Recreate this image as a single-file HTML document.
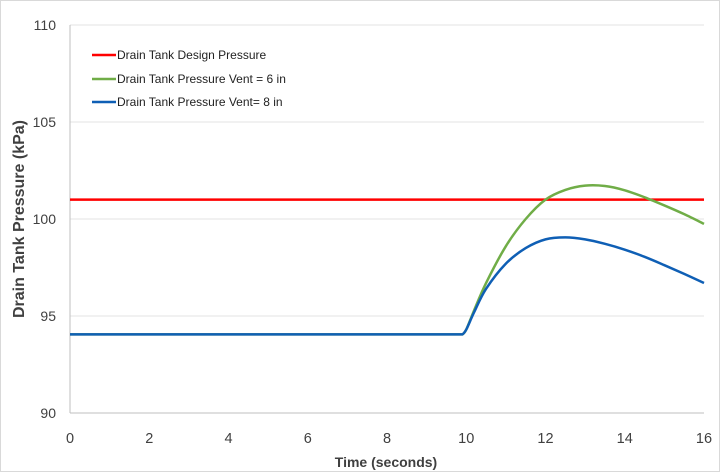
<!DOCTYPE html>
<html><head><meta charset="utf-8"><style>
body{margin:0;background:#fff}
svg{display:block;font-family:"Liberation Sans",sans-serif}
</style></head><body>
<svg id="chart" width="720" height="472">
<rect x="0.5" y="0.5" width="719" height="471" fill="#fff" stroke="#d9d9d9"/>
<g id="grid"></g><g id="axes"></g><g id="series"></g>
<g font-size="12" fill="#222">
<line x1="92" y1="55" x2="116" y2="55" stroke="#ff0000" stroke-width="2.5"/>
<text x="117" y="59">Drain Tank Design Pressure</text>
<line x1="92" y1="79" x2="116" y2="79" stroke="#70ad47" stroke-width="2.5"/>
<text x="117" y="83">Drain Tank Pressure Vent = 6 in</text>
<line x1="92" y1="102" x2="116" y2="102" stroke="#0f5fb5" stroke-width="2.5"/>
<text x="117" y="106">Drain Tank Pressure Vent= 8 in</text>
</g>
<text x="386" y="467" font-size="14" font-weight="bold" fill="#404040" text-anchor="middle">Time (seconds)</text>
<text transform="translate(24,219) rotate(-90)" font-size="16" font-weight="bold" fill="#404040" text-anchor="middle">Drain Tank Pressure (kPa)</text>
</svg>
<script>
const xTicks=[0,2,4,6,8,10,12,14,16];
const yTicks=[90,95,100,105,110];
const designT=[0,16];
const designP=[101,101];
const t6=[0,9.9,10,10.2,10.5,11,11.5,12,12.5,13,13.5,14,14.5,15,15.5,16];
const p6=[94.05,94.05,94.3,95.3,96.7,98.6,100,101,101.5,101.72,101.7,101.48,101.12,100.7,100.25,99.75];
const t8=[0,9.9,10,10.2,10.5,11,11.5,12,12.5,13,13.5,14,14.5,15,15.5,16];
const p8=[94.05,94.05,94.3,95.2,96.4,97.7,98.5,98.95,99.05,98.95,98.72,98.42,98.05,97.62,97.17,96.7];
const X=t=>70+t*(634/16), Y=v=>413-(v-90)*19.4;
const NS="http://www.w3.org/2000/svg";
function mk(tag,attrs,parent){const e=document.createElementNS(NS,tag);for(const k in attrs)e.setAttribute(k,attrs[k]);parent.appendChild(e);return e;}
const grid=document.getElementById('grid'),axes=document.getElementById('axes'),ser=document.getElementById('series');
yTicks.forEach(v=>{
 const l=mk('line',{x1:70,x2:704,y1:Y(v),y2:Y(v),stroke:v===90?'#bfbfbf':'#e3e3e3'},grid);
 
 
 const t=mk('text',{x:56,y:Y(v)+5,'font-size':14,fill:'#404040','text-anchor':'end'},axes);t.textContent=v;
 
 
});
const ax=mk('line',{x1:70,x2:70,y1:Y(110),y2:Y(90),stroke:'#bfbfbf'},axes);


xTicks.forEach(v=>{
 const t=mk('text',{x:X(v),y:443,'font-size':14.5,fill:'#404040','text-anchor':'middle'},axes);t.textContent=v;
 
 
});
function path(ts,ps){
 const pts=ts.map((t,i)=>[X(t),Y(ps[i])]);
 let d='M'+pts[0][0]+','+pts[0][1];
 for(let i=0;i<pts.length-1;i++){
  const p0=pts[Math.max(0,i-1)],p1=pts[i],p2=pts[i+1],p3=pts[Math.min(pts.length-1,i+2)];
  const k1=i<=1?0:1/6, k2=i===0?0:1/6;
  const c1=[p1[0]+(p2[0]-p0[0])*k1,p1[1]+(p2[1]-p0[1])*k1];
  const c2=[p2[0]-(p3[0]-p1[0])*k2,p2[1]-(p3[1]-p1[1])*k2];
  d+=' C'+c1+' '+c2+' '+p2;
 }
 return d;
}
const s1=mk('path',{d:path(designT,designP),stroke:'#ff0000','stroke-width':2.5,fill:'none'},ser);


const s2=mk('path',{d:path(t6,p6),stroke:'#70ad47','stroke-width':2.5,fill:'none'},ser);


const s3=mk('path',{d:path(t8,p8),stroke:'#0f5fb5','stroke-width':2.5,fill:'none'},ser);


</script>
</body></html>
